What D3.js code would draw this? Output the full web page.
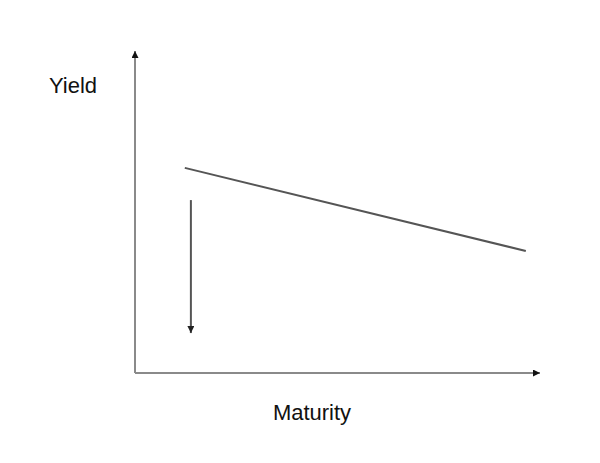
<!DOCTYPE html>
<html><head><meta charset="utf-8">
<script src="https://cdn.jsdelivr.net/npm/d3@7"></script>
<style>html,body{margin:0;padding:0;background:#fff;}</style>
</head><body>
<svg id="chart" width="600" height="463"></svg>
<script>
// Data (abstract 0-100 units)
const curveMaturity = [12.3, 96.5];
const curveYield = [63.7, 37.9];
const shiftMaturity = [13.8, 13.8];
const shiftYield = [53.7, 12.4];
const axisLabels = ["Maturity", "Yield"];

const W = 600, H = 463;
const svg = d3.select("#chart");
const x = d3.scaleLinear().domain([0, 100]).range([135, 540]);
const y = d3.scaleLinear().domain([0, 100]).range([373, 51]);

const defs = svg.append("defs");
function marker(id, color, w, h) {
  defs.append("marker").attr("id", id)
    .attr("viewBox", "0 0 10 10").attr("refX", 10).attr("refY", 5)
    .attr("markerUnits", "userSpaceOnUse")
    .attr("markerWidth", w).attr("markerHeight", h)
    .attr("orient", "auto")
    .append("path").attr("d", "M0,0L10,5L0,10Z").attr("fill", color);
}
marker("ax", "#111", 8, 7);
marker("dn", "#222", 8, 7);

// axes
svg.append("line").attr("x1", x(0)).attr("y1", y(0)).attr("x2", x(0)).attr("y2", y(100))
  .attr("stroke", "#8a8a8a").attr("stroke-width", 2).attr("marker-end", "url(#ax)");
svg.append("line").attr("x1", x(0)).attr("y1", y(0)).attr("x2", x(100)).attr("y2", y(0))
  .attr("stroke", "#8a8a8a").attr("stroke-width", 2).attr("marker-end", "url(#ax)");

// yield curve
const pts = curveMaturity.map((m, i) => [m, curveYield[i]]);
svg.append("path").datum(pts)
  .attr("d", d3.line().x(d => x(d[0])).y(d => y(d[1])))
  .attr("fill", "none").attr("stroke", "#555").attr("stroke-width", 2);

// downward shift arrow
svg.append("line")
  .attr("x1", x(shiftMaturity[0])).attr("y1", y(shiftYield[0]))
  .attr("x2", x(shiftMaturity[1])).attr("y2", y(shiftYield[1]))
  .attr("stroke", "#555").attr("stroke-width", 2).attr("marker-end", "url(#dn)");

// labels
svg.append("text").attr("x", 312).attr("y", 420).attr("text-anchor", "middle")
  .attr("font-family", "Liberation Sans, Arial, sans-serif").attr("font-size", 22)
  .attr("fill", "#111").text(axisLabels[0]);
svg.append("text").attr("x", 73).attr("y", 93).attr("text-anchor", "middle")
  .attr("font-family", "Liberation Sans, Arial, sans-serif").attr("font-size", 22)
  .attr("fill", "#111").text(axisLabels[1]);
</script>
</body></html>
